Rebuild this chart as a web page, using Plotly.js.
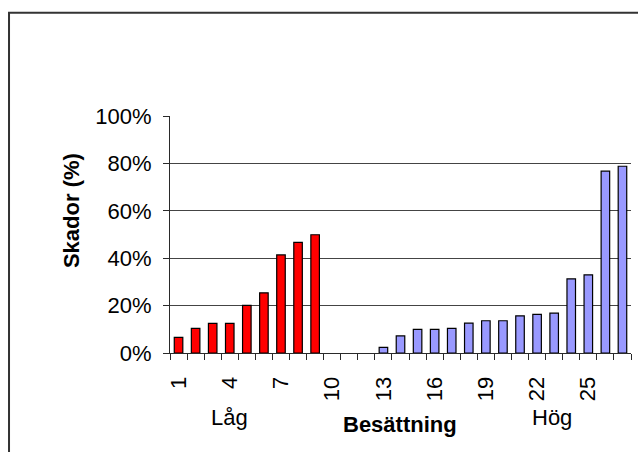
<!DOCTYPE html>
<html>
<head>
<meta charset="utf-8">
<script src="https://cdn.plot.ly/plotly-3.0.1.min.js"></script>
<style>
  html, body { margin: 0; padding: 0; background: #fff; }
  #chart { width: 638px; height: 452px; }
</style>
</head>
<body>
<div id="chart"></div>
<script>
// Besättning (crew level) categories and damage share per level
const lowX = [1, 2, 3, 4, 5, 6, 7, 8, 9];
const lowY = [0.066, 0.104, 0.125, 0.125, 0.201, 0.254, 0.414, 0.467, 0.499];
const highX = [13, 14, 15, 16, 17, 18, 19, 20, 21, 22, 23, 24, 25, 26, 27];
const highY = [0.024, 0.072, 0.100, 0.100, 0.104, 0.126, 0.136, 0.136, 0.157, 0.163, 0.168, 0.313, 0.330, 0.767, 0.788];
const xTickVals = [1, 4, 7, 10, 13, 16, 19, 22, 25];
const xTickText = ['1', '4', '7', '10', '13', '16', '19', '22', '25'];
const yTickVals = [0, 0.2, 0.4, 0.6, 0.8, 1.0];
const yTickText = ['0%', '20%', '40%', '60%', '80%', '100%'];

const FONT = 'Liberation Sans, Arial, sans-serif';
const AXIS = '#2a2a2a';

const traces = [
  {
    type: 'bar', x: lowX, y: lowY, width: 0.5,
    marker: { color: '#FF0000', line: { color: '#000', width: 1.2 } },
    hoverinfo: 'x+y'
  },
  {
    type: 'bar', x: highX, y: highY, width: 0.5,
    marker: { color: '#9999FF', line: { color: '#000', width: 1.2 } },
    hoverinfo: 'x+y'
  }
];

const layout = {
  width: 638, height: 452,
  margin: { l: 170, r: 7, t: 116, b: 99 },
  paper_bgcolor: '#fff', plot_bgcolor: '#fff',
  showlegend: false,
  barmode: 'overlay',
  font: { family: FONT, size: 22, color: '#000' },
  xaxis: {
    range: [0.5, 27.5],
    tickmode: 'array', tickvals: xTickVals, ticktext: xTickText,
    tickangle: -90, ticks: '', showgrid: false, zeroline: false,
    showline: true, linecolor: AXIS, linewidth: 1,
    tickfont: { family: FONT, size: 22, color: '#000' },
    ticklabelstandoff: 14,
    minor: { tickmode: 'linear', tick0: 0.5, dtick: 1, ticks: 'outside', ticklen: 6, tickcolor: AXIS, tickwidth: 1, showgrid: false }
  },
  yaxis: {
    range: [0, 1],
    tickmode: 'array', tickvals: yTickVals, ticktext: yTickText,
    ticks: 'outside', ticklen: 6, tickcolor: AXIS, tickwidth: 1,
    showgrid: true, gridcolor: '#444', gridwidth: 1,
    zeroline: false, showline: true, linecolor: AXIS, linewidth: 1,
    tickfont: { family: FONT, size: 22, color: '#000' },
    ticklabelstandoff: 7
  },
  annotations: [
    { text: 'Låg', xref: 'x', yref: 'paper', x: 4, y: -0.272, showarrow: false, xanchor: 'center', yanchor: 'middle', font: { family: FONT, size: 22 } },
    { text: 'Hög', xref: 'x', yref: 'paper', x: 22.9, y: -0.272, showarrow: false, xanchor: 'center', yanchor: 'middle', font: { family: FONT, size: 22 } },
    { text: '<b>Besättning</b>', xref: 'paper', yref: 'paper', x: 0.499, y: -0.302, showarrow: false, xanchor: 'center', yanchor: 'middle', font: { family: FONT, size: 22 } },
    { text: '<b>Skador (%)</b>', xref: 'paper', yref: 'paper', x: -0.2148, y: 0.603, textangle: -90, showarrow: false, xanchor: 'center', yanchor: 'middle', font: { family: FONT, size: 22 } }
  ],
  shapes: [
    // chart frame, open to the right and bottom
    { type: 'rect', xref: 'paper', yref: 'paper', x0: -0.3492, y0: -1, x1: 1.3, y1: 1.4354, line: { color: '#333', width: 2 }, layer: 'below' }
  ]
};

Plotly.newPlot('chart', traces, layout, { displayModeBar: false, staticPlot: true });
</script>
</body>
</html>
